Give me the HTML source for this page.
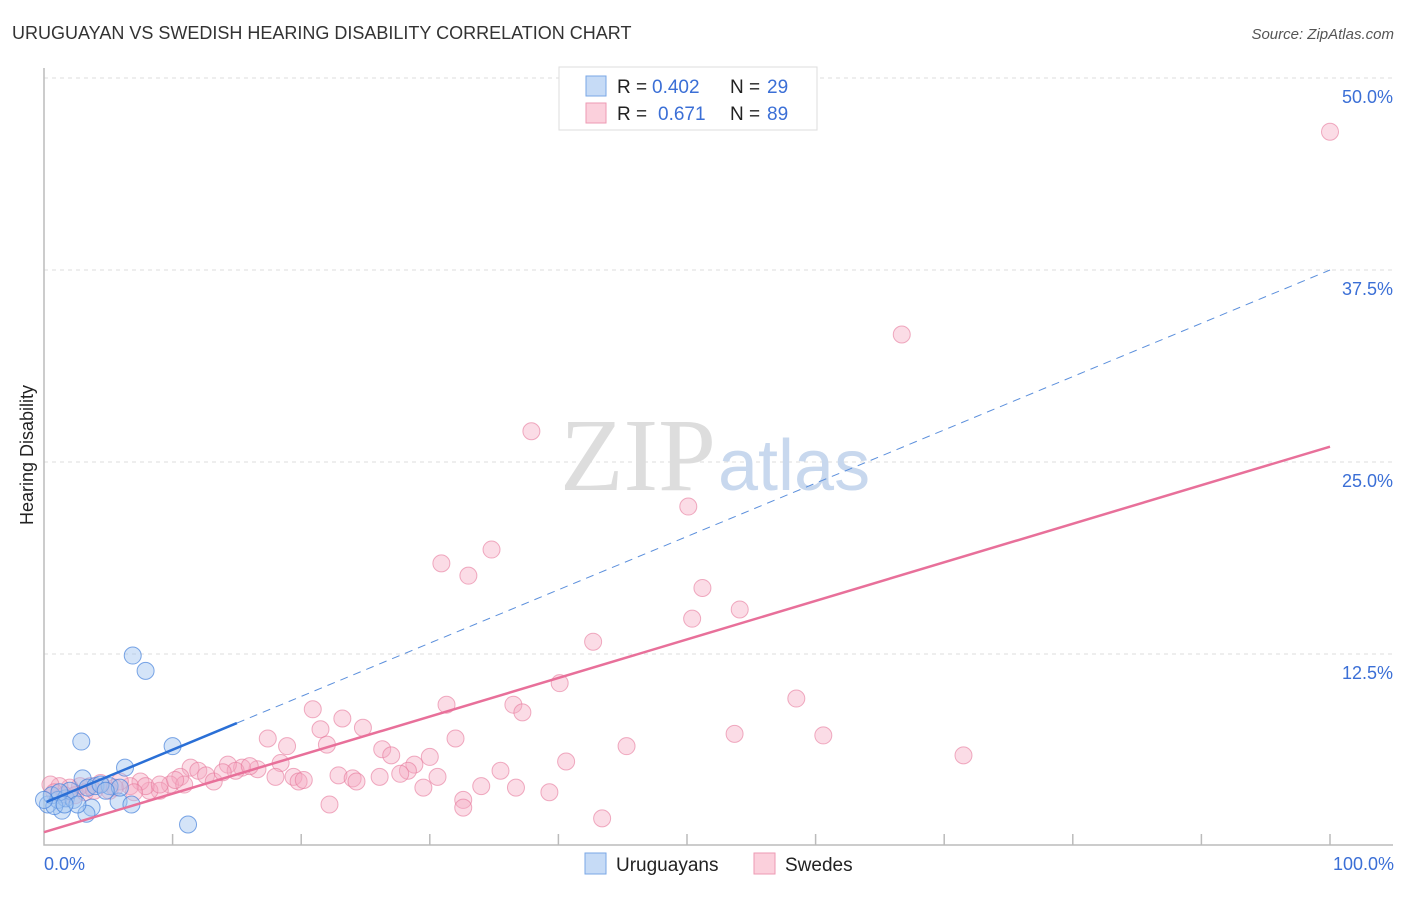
<!DOCTYPE html>
<html><head><meta charset="utf-8"><style>
body{margin:0;background:#fff;font-family:"Liberation Sans",sans-serif}
</style></head><body>
<svg width="1406" height="892" viewBox="0 0 1406 892" xmlns="http://www.w3.org/2000/svg">
<text x="12" y="39" font-size="18" fill="#333">URUGUAYAN VS SWEDISH HEARING DISABILITY CORRELATION CHART</text>
<text x="1394" y="39" font-size="15" fill="#555" font-style="italic" text-anchor="end">Source: ZipAtlas.com</text>
<g id="grid"></g>
<text x="716" y="490" font-size="104" font-family="Liberation Serif" fill="#ddd" text-anchor="end">ZIP</text>
<text x="718" y="490" font-size="72" fill="#c8d8ee">atlas</text>
<g id="axes"></g>
<g id="pink"></g>
<g id="blue"></g>
<g id="lines"></g>
<text x="33" y="455" font-size="18" fill="#222" text-anchor="middle" transform="rotate(-90 33 455)">Hearing Disability</text>
<text x="44" y="870" font-size="18" fill="#3b6fd6">0.0%</text>
<text x="1394" y="870" font-size="18" fill="#3b6fd6" text-anchor="end">100.0%</text>
<g>
<rect x="559" y="67" width="258" height="63" fill="#fff" stroke="#ddd"/>
<rect x="586" y="76" width="20" height="20" fill="#c6dbf6" stroke="#7aa7e6"/>
<text y="93" font-size="19" fill="#222"><tspan x="617">R =</tspan><tspan x="652" fill="#3b6fd6">0.402</tspan><tspan x="730">N =</tspan><tspan x="767" fill="#3b6fd6">29</tspan></text>
<rect x="586" y="103" width="20" height="20" fill="#fbd0dc" stroke="#ee9ab3"/>
<text y="120" font-size="19" fill="#222"><tspan x="617">R =</tspan><tspan x="658" fill="#3b6fd6">0.671</tspan><tspan x="730">N =</tspan><tspan x="767" fill="#3b6fd6">89</tspan></text>
</g>
<g>
<rect x="585" y="853" width="21" height="21" fill="#c6dbf6" stroke="#7aa7e6"/>
<text x="616" y="871" font-size="19" fill="#222">Uruguayans</text>
<rect x="754" y="853" width="21" height="21" fill="#fbd0dc" stroke="#ee9ab3"/>
<text x="785" y="871" font-size="19" fill="#222">Swedes</text>
</g>
</svg>
<script>
const yTicks=[12.5,25,37.5,50];
const yTickLabels=["12.5%","25.0%","37.5%","50.0%"];
const xTicks=[10,20,30,40,50,60,70,80,90,100];
const blueX=[6.9,7.9,2.9,10.0,6.3,3.0,11.2,5.8,6.8,3.7,3.3,1.4,0.3,0.6,1.1,1.7,2.3,2.0,3.4,4.0,5.1,4.4,1.2,0.8,5.9,0,2.6,1.6,4.8];
const blueY=[12.4,11.4,6.8,6.5,5.1,4.4,1.4,2.9,2.7,2.5,2.1,2.3,2.7,3.3,3.0,3.1,3.0,3.6,3.8,3.9,3.9,4.0,3.5,2.6,3.8,3.0,2.7,2.7,3.6];
const pinkX=[100,66.7,37.9,50.1,34.8,30.9,33.0,51.2,54.1,50.4,42.7,40.1,58.5,31.3,36.5,37.2,20.9,23.2,24.8,21.5,17.4,18.9,22.0,53.7,60.6,45.3,32.0,26.3,27.0,30.0,71.5,40.6,28.8,28.3,35.5,27.7,30.6,26.1,22.9,24.0,24.3,19.4,19.8,20.2,18.4,18.0,16.6,34.0,36.7,29.5,39.3,32.6,32.6,22.2,43.4,15.4,14.3,14.9,16.0,11.4,12.0,12.6,13.2,10.6,9.8,10.9,9.0,8.2,7.5,6.7,5.9,5.1,4.4,3.6,2.8,2.0,1.2,0.5,0.8,1.6,2.4,3.2,3.9,5.5,7.9,9.0,13.9,10.2,7.0];
const pinkY=[46.5,33.3,27.0,22.1,19.3,18.4,17.6,16.8,15.4,14.8,13.3,10.6,9.6,9.2,9.2,8.7,8.9,8.3,7.7,7.6,7.0,6.5,6.6,7.3,7.2,6.5,7.0,6.3,5.9,5.8,5.9,5.5,5.3,4.9,4.9,4.7,4.5,4.5,4.6,4.4,4.2,4.5,4.2,4.3,5.4,4.5,5.0,3.9,3.8,3.8,3.5,3.0,2.5,2.7,1.8,5.1,5.3,4.9,5.2,5.1,4.9,4.6,4.2,4.5,4.0,4.0,3.6,3.6,4.2,3.9,4.2,3.6,4.1,3.9,3.9,3.8,3.9,4.0,3.5,3.3,3.3,3.5,3.6,3.8,3.9,4.0,4.8,4.3,3.5];
const blueTrend=[2.8,37.5];
const pinkTrend=[0.9,26.0];
const X=v=>44+v*12.86, Y=v=>846-v*15.36;
const NS="http://www.w3.org/2000/svg";
function mk(t,a,p){const e=document.createElementNS(NS,t);for(const k in a)e.setAttribute(k,a[k]);p.appendChild(e);return e;}
const grid=document.getElementById('grid'),axes=document.getElementById('axes');
yTicks.forEach((t,i)=>{
 const l=mk('line',{x1:44,x2:1393,y1:Y(t),y2:Y(t),stroke:'#ddd','stroke-dasharray':'4,4'},grid);
 
 
 const tx=mk('text',{x:1393,y:Y(t)+25,'font-size':18,fill:'#3b6fd6','text-anchor':'end'},grid);
 tx.textContent=yTickLabels[i];
 
 
});
const ax=mk('path',{d:'M44 68V845H1393',fill:'none',stroke:'#bbb','stroke-width':1.5},axes);


xTicks.forEach(t=>{
 const l=mk('line',{x1:X(t),x2:X(t),y1:834,y2:845,stroke:'#bbb','stroke-width':1.5},axes);
 
 
});
const pg=document.getElementById('pink');
pinkX.forEach((v,i)=>{
 const c=mk('circle',{cx:X(v),cy:Y(pinkY[i]),r:8.5,fill:'rgba(246,168,192,0.4)',stroke:'rgba(230,120,155,0.6)'},pg);
 
 
});
const bg=document.getElementById('blue');
blueX.forEach((v,i)=>{
 const c=mk('circle',{cx:X(v),cy:Y(blueY[i]),r:8.5,fill:'rgba(160,196,240,0.45)',stroke:'rgba(70,130,220,0.7)'},bg);
 
 
});
const lg=document.getElementById('lines');
const bAt=x=>blueTrend[0]+(blueTrend[1]-blueTrend[0])*x/100;
const pAt=x=>pinkTrend[0]+(pinkTrend[1]-pinkTrend[0])*x/100;
let e=mk('line',{x1:X(15),y1:Y(bAt(15)),x2:X(100),y2:Y(bAt(100)),stroke:'#5b8fdc','stroke-width':1,'stroke-dasharray':'8,6'},lg);


e=mk('line',{x1:X(0),y1:Y(pAt(0)),x2:X(100),y2:Y(pAt(100)),stroke:'#e8709a','stroke-width':2.5},lg);


e=mk('line',{x1:X(0.2),y1:Y(bAt(0.2)),x2:X(15),y2:Y(bAt(15)),stroke:'#2a6fd6','stroke-width':2.5},lg);


</script>
</body></html>
